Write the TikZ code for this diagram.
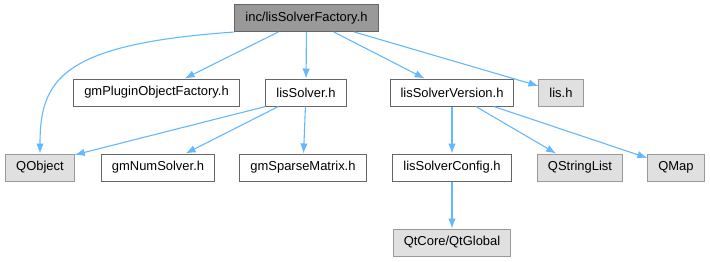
\documentclass[tikz,border=0pt]{standalone}
\usepackage{fontspec}
\setmainfont{Liberation Sans}
\usetikzlibrary{arrows.meta}
\definecolor{ink}{HTML}{000000}
\definecolor{rootfill}{HTML}{999999}
\definecolor{rootdraw}{HTML}{666666}
\definecolor{extfill}{HTML}{E0E0E0}
\definecolor{extdraw}{HTML}{999999}
\definecolor{link}{HTML}{63B8FF}
\tikzset{
  >={Latex[length=10bp,width=7.5bp]},
  every node/.style={font=\fontsize{13}{15}\selectfont,text=ink},
  filebox/.style={draw=rootdraw,fill=white,line width=1bp,minimum height=27bp,inner xsep=10.5bp,inner ysep=0pt},
  rootbox/.style={filebox,fill=rootfill},
  extbox/.style={filebox,fill=extfill,draw=extdraw},
  arrow/.style={->,line width=1.1bp,draw=link},
}
\begin{document}
\begin{tikzpicture}[x=1bp,y=-1bp]
  \useasboundingbox (0,0) rectangle (710,261);
  \node[rootbox] (root) at (306.5,18) {inc/lisSolverFactory.h};

  \node[filebox] (plugin) at (156.5,92.5) {gmPluginObjectFactory.h};
  \node[filebox] (solver) at (306,92.5) {lisSolver.h};
  \node[filebox] (version) at (452,92.5) {lisSolverVersion.h};
  \node[extbox] (lis) at (561,92.5) {lis.h};

  \node[extbox] (qobject) at (40,167.5) {QObject};
  \node[filebox] (numsolver) at (158,167.5) {gmNumSolver.h};
  \node[filebox] (sparse) at (303,167.5) {gmSparseMatrix.h};
  \node[filebox] (config) at (452,167.5) {lisSolverConfig.h};
  \node[extbox] (strlist) at (580,167.5) {QStringList};
  \node[extbox] (qmap) at (676,167.5) {QMap};

  \node[extbox] (qtglobal) at (452,242.5) {QtCore/QtGlobal};

  \foreach \a/\b in {root/plugin,root/solver,root/version,root/lis,solver/numsolver,solver/sparse,version/config,version/strlist,version/qmap,config/qtglobal}
    \draw[arrow] (\a) -- (\b);
  \draw[arrow] (root.south west) .. controls +(-173,12) and +(0,-74) .. (qobject.north);
  \draw[arrow] (solver.south west) -- (qobject.20);
\end{tikzpicture}
\end{document}
